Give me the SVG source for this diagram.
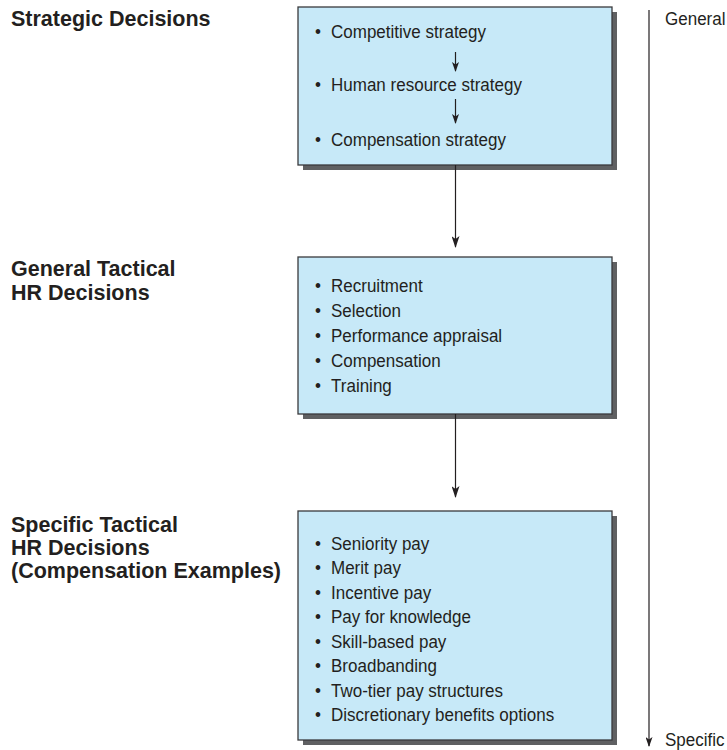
<svg xmlns="http://www.w3.org/2000/svg" width="727" height="750" viewBox="0 0 727 750">
<defs>
<style>
.box{fill:#c7e9f8;stroke:#3a3a3c;stroke-width:1.3}
.shadow{fill:#5f6062}
.item{font-family:"Liberation Sans",Arial,sans-serif;font-size:18.5px;fill:#231f20}
.label{font-family:"Liberation Sans",Arial,sans-serif;font-size:21.5px;font-weight:bold;fill:#231f20}
.conn{stroke:#231f20;stroke-width:1.2;fill:none}
</style>
<marker id="ah" markerUnits="userSpaceOnUse" markerWidth="12" markerHeight="8" refX="11" refY="4" orient="auto">
<path d="M0,0 L12,4 L0,8 L3,4 z" fill="#231f20"/>
</marker>
<marker id="ahs" markerUnits="userSpaceOnUse" markerWidth="10" markerHeight="7" refX="9" refY="3.5" orient="auto">
<path d="M0,0 L10,3.5 L0,7 L2.5,3.5 z" fill="#231f20"/>
</marker>
</defs>
<rect width="727" height="750" fill="#ffffff"/>

<g id="label-strategic">
<text class="label" x="11" y="26">Strategic Decisions</text>
</g>
<g id="label-general">
<text class="label" x="11" y="276">General Tactical</text>
<text class="label" x="11" y="300">HR Decisions</text>
</g>
<g id="label-specific">
<text class="label" x="11" y="532">Specific Tactical</text>
<text class="label" x="11" y="555">HR Decisions</text>
<text class="label" x="11" y="578">(Compensation Examples)</text>
</g>

<g id="box-strategic">
<rect class="shadow" x="303" y="12" width="314" height="158"/>
<rect class="box" x="298" y="7" width="314" height="158"/>
<g transform="translate(315 0) scale(0.92 1)">
<text class="item" x="0" y="38">•</text><text class="item" x="17.4" y="38">Competitive strategy</text>
<text class="item" x="0" y="91">•</text><text class="item" x="17.4" y="91">Human resource strategy</text>
<text class="item" x="0" y="146">•</text><text class="item" x="17.4" y="146">Compensation strategy</text>
</g>
<line class="conn" x1="455.5" y1="52" x2="455.5" y2="71" marker-end="url(#ahs)"/>
<line class="conn" x1="455.5" y1="99" x2="455.5" y2="123" marker-end="url(#ahs)"/>
</g>

<g id="box-general">
<rect class="shadow" x="303" y="262" width="314" height="157"/>
<rect class="box" x="298" y="257" width="314" height="157"/>
<g transform="translate(315 0) scale(0.92 1)">
<text class="item" x="0" y="292">•</text><text class="item" x="17.4" y="292">Recruitment</text>
<text class="item" x="0" y="317">•</text><text class="item" x="17.4" y="317">Selection</text>
<text class="item" x="0" y="342">•</text><text class="item" x="17.4" y="342">Performance appraisal</text>
<text class="item" x="0" y="367">•</text><text class="item" x="17.4" y="367">Compensation</text>
<text class="item" x="0" y="392">•</text><text class="item" x="17.4" y="392">Training</text>
</g>
</g>

<g id="box-specific">
<rect class="shadow" x="303" y="516" width="314" height="229"/>
<rect class="box" x="298" y="511" width="314" height="229"/>
<g transform="translate(315 0) scale(0.92 1)">
<text class="item" x="0" y="550">•</text><text class="item" x="17.4" y="550">Seniority pay</text>
<text class="item" x="0" y="574.5">•</text><text class="item" x="17.4" y="574.5">Merit pay</text>
<text class="item" x="0" y="599">•</text><text class="item" x="17.4" y="599">Incentive pay</text>
<text class="item" x="0" y="623.5">•</text><text class="item" x="17.4" y="623.5">Pay for knowledge</text>
<text class="item" x="0" y="648">•</text><text class="item" x="17.4" y="648">Skill-based pay</text>
<text class="item" x="0" y="672.5">•</text><text class="item" x="17.4" y="672.5">Broadbanding</text>
<text class="item" x="0" y="697">•</text><text class="item" x="17.4" y="697">Two-tier pay structures</text>
<text class="item" x="0" y="721.5">•</text><text class="item" x="17.4" y="721.5">Discretionary benefits options</text>
</g>
</g>

<g id="scale">
<g transform="translate(665 0) scale(0.92 1)">
<text class="item" x="0" y="25">General</text>
<text class="item" x="0" y="746">Specific</text>
</g>
</g>

<g id="connectors">
<line class="conn" x1="455.5" y1="165" x2="455.5" y2="247" marker-end="url(#ah)"/>
<line class="conn" x1="455.5" y1="414" x2="455.5" y2="497" marker-end="url(#ah)"/>
<line class="conn" x1="649" y1="10" x2="649" y2="746" marker-end="url(#ahs)"/>
</g>
</svg>
